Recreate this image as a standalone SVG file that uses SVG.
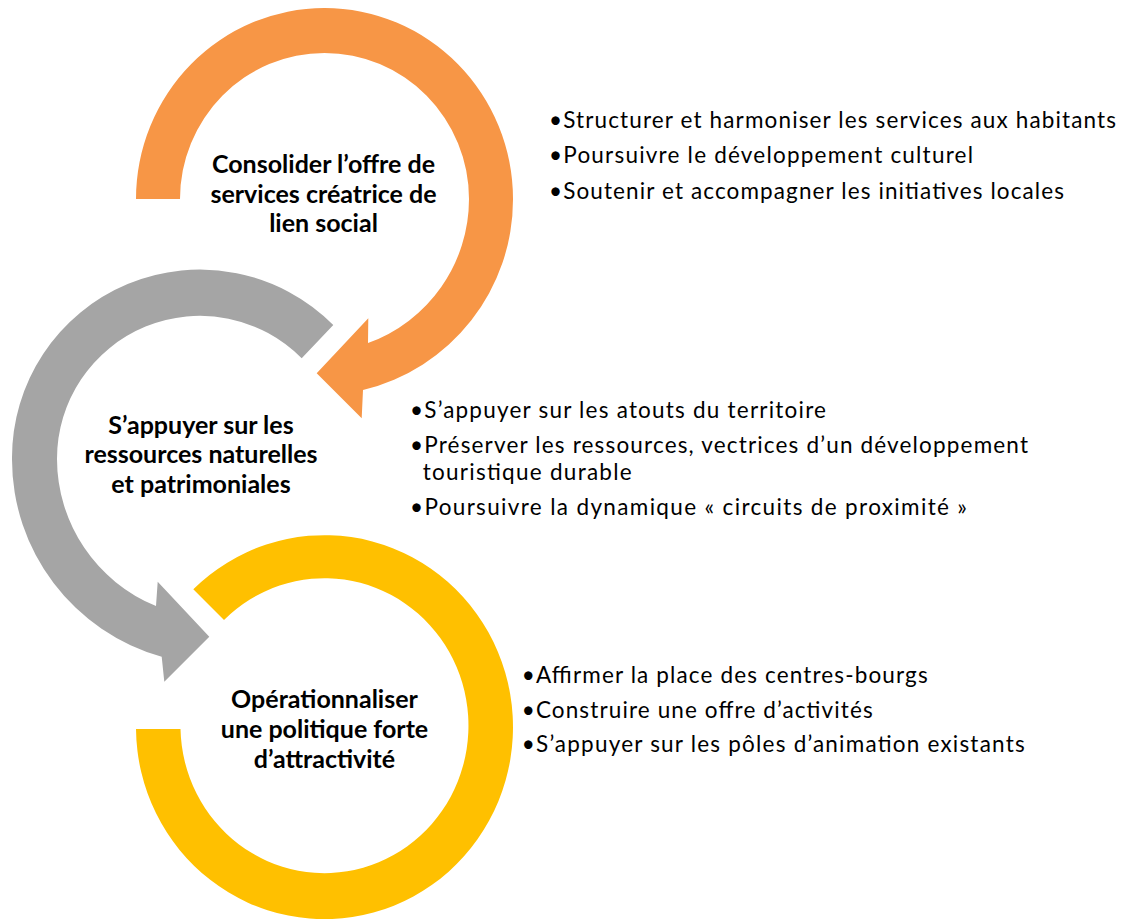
<svg xmlns="http://www.w3.org/2000/svg" width="1128" height="919" viewBox="0 0 1128 919">
<style>
.title{font-family:Lato,"Liberation Sans",sans-serif;font-weight:bold;font-size:25px;fill:#000;text-anchor:middle}
.item{font-family:Lato,"Liberation Sans",sans-serif;font-size:22.5px;fill:#000}
.orange{fill:#F79646}
.gray{fill:#A5A5A5}
.yellow{fill:#FFC000}
</style>
<rect width="1128" height="919" fill="#fff"/>
<g id="node-services">
<path class="orange" d="M136,199 A188.5,191 0 0 1 513,199 A196,196 0 0 1 363,390 L361.7,418.3 L316.7,373.3 L368.3,318.3 L368,343 A153,153 0 0 0 469,199 A144.5,146 0 0 0 180,199 Z"/>
<text class="title"><tspan x="323.5" y="173.3">Consolider l’offre de</tspan><tspan x="323.5" y="202.7">services créatrice de</tspan><tspan x="323.5" y="232.3">lien social</tspan></text>
<text class="item" x="549" y="127.7" textLength="567">•Structurer et harmoniser les services aux habitants</text>
<text class="item" x="549" y="163.3" textLength="424">•Poursuivre le développement culturel</text>
<text class="item" x="549" y="199" textLength="515">•Soutenir et accompagner les initiatives locales</text>
</g>
<g id="node-ressources">
<path class="gray" d="M333.3,325 A188,188 0 0 0 12,459 A205,205 0 0 0 161.7,656.7 L164.3,681.7 L209.3,636.7 L157.7,581.7 L156,606 A159,159 0 0 1 57,459 A143,143 0 0 1 301.7,358.3 Z"/>
<text class="title"><tspan x="201" y="434">S’appuyer sur les</tspan><tspan x="201" y="463.3">ressources naturelles</tspan><tspan x="201" y="492.7">et patrimoniales</tspan></text>
<text class="item" x="410" y="418.3" textLength="416">•S’appuyer sur les atouts du territoire</text>
<text class="item" x="410" y="453.3" textLength="618">•Préserver les ressources, vectrices d’un développement</text>
<text class="item" x="422.7" y="480" textLength="209">touristique durable</text>
<text class="item" x="410" y="515" textLength="557">•Poursuivre la dynamique « circuits de proximité »</text>
</g>
<g id="node-attractivite">
<path class="yellow" d="M136,729 A188.5,192 0 1 0 193.3,589.3 L224,620 A144,147.5 0 1 1 180.5,729 Z"/>
<text class="title"><tspan x="324.5" y="708.3">Opérationnaliser</tspan><tspan x="324.5" y="738.3">une politique forte</tspan><tspan x="324.5" y="768.3">d’attractivité</tspan></text>
<text class="item" x="521.7" y="683.3" textLength="406">•Affirmer la place des centres-bourgs</text>
<text class="item" x="521.7" y="718.3" textLength="351">•Construire une offre d’activités</text>
<text class="item" x="521.7" y="751.7" textLength="503">•S’appuyer sur les pôles d’animation existants</text>
</g>
<g id="connectors"/>
</svg>
